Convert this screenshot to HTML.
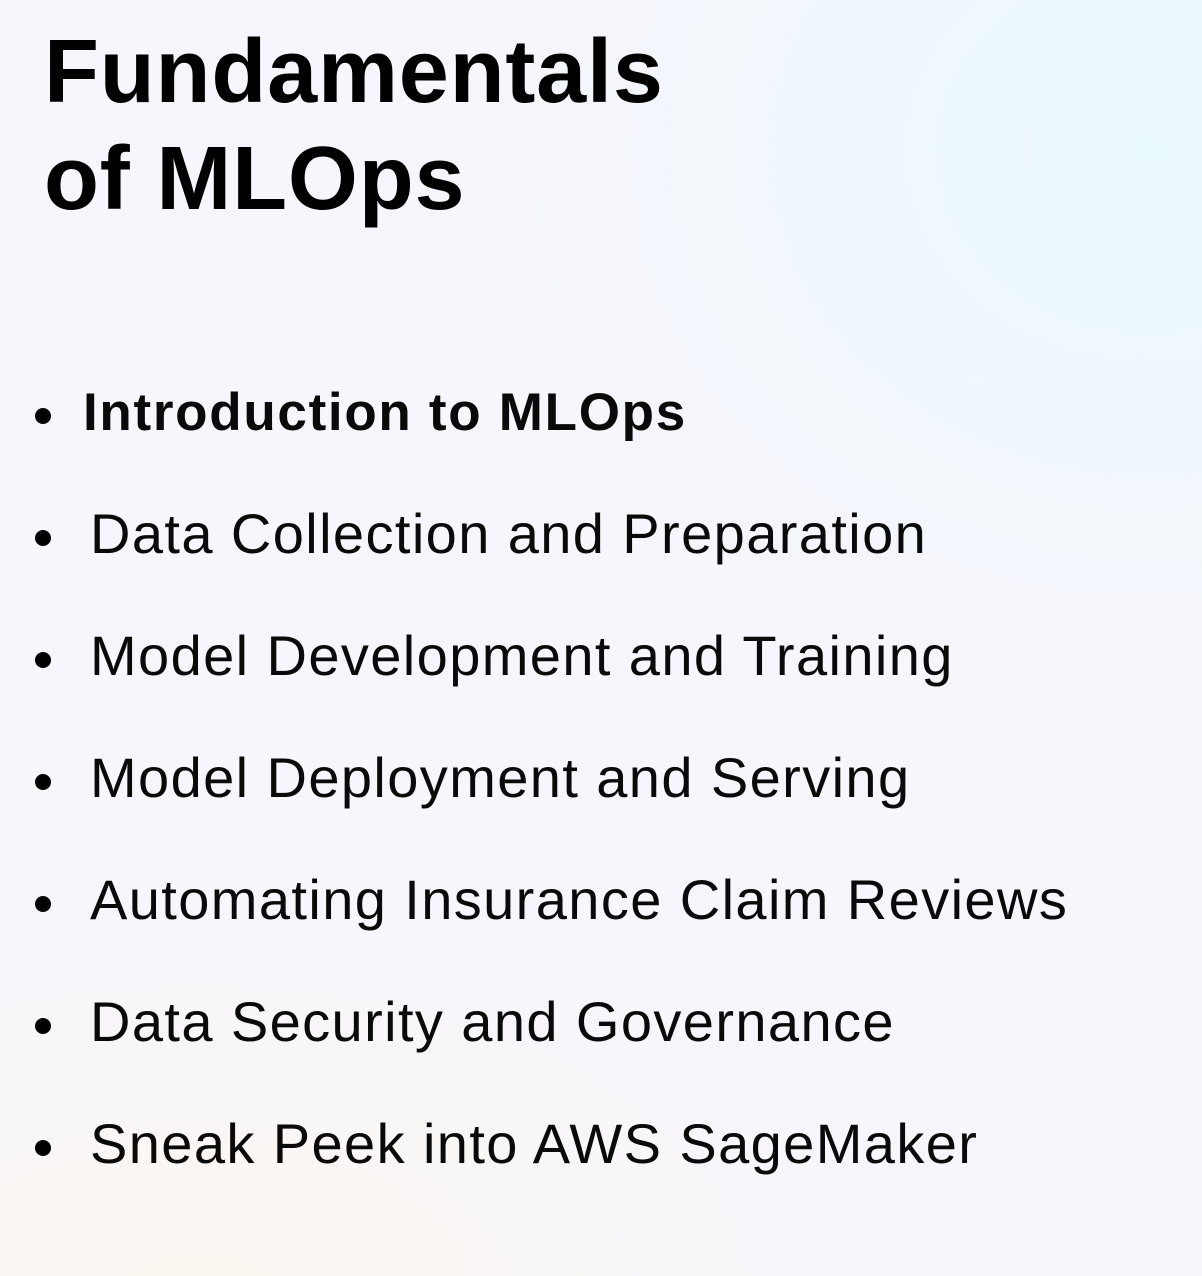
<!DOCTYPE html>
<html><head><meta charset="utf-8"><style>
html,body{margin:0;padding:0}
body{width:1202px;height:1276px;position:relative;overflow:hidden;
background:radial-gradient(ellipse 700px 600px at 1150px 150px,#e9f8fd 0%,rgba(240,248,253,0) 100%),radial-gradient(ellipse 700px 400px at 200px 1300px,#fbf7f0 0%,rgba(250,247,250,0) 100%),#f7f6fc;
font-family:"Liberation Sans",sans-serif;color:#000}
.t{position:absolute;left:44px;font-size:90px;font-weight:bold;line-height:1;white-space:nowrap;letter-spacing:0.8px}
.i{position:absolute;left:90px;font-size:56px;line-height:1;white-space:nowrap;letter-spacing:1.4px;color:#0a0a0a}
.b{position:absolute;left:35px;width:16px;height:16px;border-radius:50%;background:#000}
</style></head><body>
<div class="t" style="top:27px">Fundamentals</div>
<div class="t" style="top:134px">of MLOps</div>

<div class="b" style="top:408px"></div>
<div class="i" style="top:386px;left:83px;font-weight:bold;font-size:53px;letter-spacing:1.7px">Introduction to MLOps</div>

<div class="b" style="top:530px"></div>
<div class="i" style="top:506px">Data Collection and Preparation</div>
<div class="b" style="top:652px"></div>
<div class="i" style="top:628px">Model Development and Training</div>
<div class="b" style="top:774px"></div>
<div class="i" style="top:750px">Model Deployment and Serving</div>
<div class="b" style="top:896px"></div>
<div class="i" style="top:872px">Automating Insurance Claim Reviews</div>
<div class="b" style="top:1018px"></div>
<div class="i" style="top:994px">Data Security and Governance</div>
<div class="b" style="top:1140px"></div>
<div class="i" style="top:1116px">Sneak Peek into AWS SageMaker</div>
</body></html>
